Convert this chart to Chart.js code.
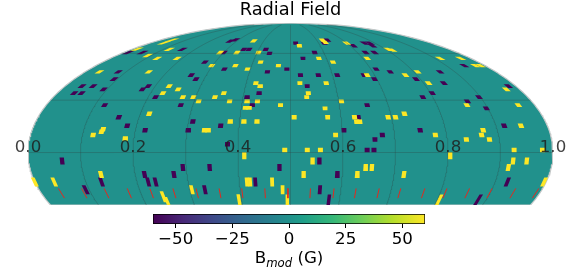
<!DOCTYPE html>
<html>
<head>
<meta charset="utf-8">
<title>Radial Field</title>
<script src="https://cdn.jsdelivr.net/npm/chart.js@4"></script>
<style>
  body { margin: 0; background: #fff; width: 568px; height: 272px; overflow: hidden; position: relative; }
  canvas { position: absolute; left: 0; }
  #cbLabel { position: absolute; left: 0; width: 578px; top: 248px; text-align: center; color: #000;
    font: 16.67px "DejaVu Sans"; line-height: 20px; }
  #cbLabel sub { font-size: 11.7px; line-height: 0; }
</style>
</head>
<body>
<canvas id="map" width="568" height="272" style="top:0"></canvas>
<canvas id="colorbar" width="568" height="45" style="top:205px"></canvas>
<div id="cbLabel">B<sub><i>mod</i></sub> (G)</div>
<script>
// patch centres: x on the printed 0-1 axis, y as height above the equator (pole = 1)
const strongPosX = [.259,.274,.208,.228,.269,.246,.284,.430,.439,.366,.398,.350,.395,.418,.443,.477,.136,.230,.269,.286,.257,.295,.315,.325,.356,.373,.384,.434,.442,.417,.437,.414,.421,.481,
  .517,.561,.566,.607,.686,.694,.554,.581,.646,.785,.824,.852,.862,.742,.719,.646,.763,.518,.568,.911,.534,.531,.836,.597,.566,.934,
  .231,.336,.343,.385,.411,.436,.140,.143,.124,.185,.412,.139,.050,.417,.423,.465,.485,.312,.258,.266,.402,.013,
  .507,.571,.622,.626,.632,.686,.700,.717,.586,.776,.835,.867,.864,.879,.939,.532,.557,.489,.926,.980,.804,.542,.924,.950,.915,.643,.655,.716,.627,.525,.494,.783,.983];
const strongPosY = [.847,.867,.798,.749,.796,.726,.726,.862,.772,.772,.772,.670,.670,.644,.698,.670,.623,.623,.513,.487,.459,.428,.428,.395,.428,.459,.395,.536,.513,.395,.395,.345,.345,.366,
  .824,.867,.850,.844,.796,.790,.726,.698,.726,.726,.726,.670,.670,.623,.598,.598,.536,.536,.536,.487,.459,.428,.366,.395,.341,.366,
  .299,.171,.171,.240,.240,.240,.160,.180,.135,.109,-.025,-.169,-.228,-.228,-.228,-.228,-.287,-.287,-.341,-.385,-.364,-.228,
  .273,.273,.273,.238,.238,.273,.273,.299,.135,.135,.101,.171,.135,.101,.207,.019,.019,.019,.019,.019,-.025,-.066,-.066,-.066,-.115,-.115,-.115,-.169,-.169,-.169,-.367,-.367,-.228];
const strongNegX = [.191,.218,.294,.385,.395,.411,.421,.453,.460,.373,.337,.374,.456,.172,.164,.311,.320,.103,.124,.088,.102,.144,.218,.229,.243,.440,.417,.427,.146,.291,
  .510,.570,.564,.620,.641,.651,.656,.643,.660,.546,.524,.831,.493,.663,.690,.785,.519,.553,.589,.640,.660,.739,.792,.532,.915,.770,.752,.859,.837,.646,.873,
  .173,.189,.223,.314,.305,.367,.380,.065,.222,.295,.346,.278,.140,.229,.243,.110,.479,.433,.337,
  .629,.602,.747,.661,.675,.907,.646,.659,.555,.589,.556,.573,.857,.913];
const strongNegY = [.772,.772,.796,.860,.870,.796,.796,.796,.765,.772,.698,.644,.623,.623,.567,.598,.567,.513,.513,.459,.459,.487,.487,.513,.428,.459,.428,.366,.366,.366,
  .844,.867,.844,.824,.844,.844,.824,.772,.772,.772,.726,.670,.644,.644,.623,.623,.598,.598,.598,.598,.567,.567,.536,.513,.513,.459,.428,.428,.395,.366,.341,
  .273,.207,.171,.240,.171,.207,.063,-.066,-.169,-.115,-.115,-.169,-.228,-.228,-.228,-.287,-.115,-.228,-.287,
  .273,.171,.171,.101,.135,.207,.019,.019,-.066,-.169,-.287,-.367,-.367,-.228];
const strongPosB = 60;
const strongNegB = -60;

// red markers low on the map, x where each one starts
const markerX = [.058,.102,.145,.189,.232,.276,.320,.364,.407,.451,.495,.538,.583,.625,.669,.710,.756,.798,.841,.884,.929,.973];
const markerTop = -.277;
const markerBottom = -.352;

const gridMeridians = [.1,.2,.3,.4,.5,.6,.7,.8,.9];
const gridParallels = [0,.404,.765];
const mapTicks = [0,.2,.4,.6,.8,1];
const barTicks = [-50,-25,0,25,50];
const bMin = -60;
const bMax = 60;
const mapBottom = -.405;

const viridis = ['#440154','#482878','#3e4989','#31688e','#26828e','#21918c','#1f9e89','#35b779','#6ece58','#b5de2b','#fde725'];
const viridisAt = [0,.11,.22,.33,.44,.5,.55,.66,.77,.88,1];

function hex(c) {
  return [1, 3, 5].map(i => parseInt(c.substr(i, 2), 16));
}

function colorFor(b) {
  const t = Math.min(1, Math.max(0, (b - bMin) / (bMax - bMin)));
  let i = 0;
  while (i < viridisAt.length - 2 && t > viridisAt[i + 1]) i++;
  const f = (t - viridisAt[i]) / (viridisAt[i + 1] - viridisAt[i]);
  const a = hex(viridis[i]), b2 = hex(viridis[i + 1]);
  return `rgb(${a.map((v, k) => Math.round(v + (b2[k] - v) * f)).join(',')})`;
}

// Mollweide: a meridian is an ellipse, so x shrinks towards the pole
const halfChord = y => Math.sqrt(Math.max(0, 1 - y * y));
const onMeridian = (f, y) => ({ x: .5 + (f - .5) * halfChord(y), y });

function lineSet(points, color, width, order) {
  return { data: points, borderColor: color, borderWidth: width, pointRadius: 0, fill: false, order };
}

function patchSize(y) {
  if (y < -.33) return [3.5, 11];
  if (y < -.2) return [3.8, 9];
  if (y < 0) return [4.3, 7];
  if (y < .33) return [5, 4.5];
  if (y < .6) return [5, 3.8];
  return [5, 3.3];
}

function patch(x, y, b) {
  const [w, h] = patchSize(y);
  const dw = w / 525 / 2;
  const dh = h / 129.7 / 2;
  const slant = -(x - .5) * y / (1 - y * y);
  const top = y + dh;
  const bottom = Math.max(mapBottom, y - dh);
  const pts = [
    { x: x - dw + slant * (bottom - y), y: bottom },
    { x: x + dw + slant * (bottom - y), y: bottom },
    { x: x + dw + slant * dh, y: top },
    { x: x - dw + slant * dh, y: top }
  ];
  return { data: pts, backgroundColor: colorFor(b), borderWidth: 0, pointRadius: 0, fill: 'shape', order: 5 };
}

const sweep = [];
for (let y = mapBottom; y < .995; y += .01) sweep.push(y);

const outline = [
  ...sweep.map(y => onMeridian(0, y)),
  { x: .5, y: 1 },
  ...sweep.slice().reverse().map(y => onMeridian(1, y))
];
outline.push(outline[0]);

const datasets = [
  { data: outline, backgroundColor: colorFor(0), borderColor: '#c4c8c8', borderWidth: 1.2, pointRadius: 0, fill: 'shape', order: 9 },
  ...strongPosX.map((x, i) => patch(x, strongPosY[i], strongPosB)),
  ...strongNegX.map((x, i) => patch(x, strongNegY[i], strongNegB)),
  ...gridMeridians.map(f => lineSet(sweep.map(y => onMeridian(f, y)), 'rgba(50,60,60,.28)', 1, 3)),
  ...gridParallels.map(y => lineSet([{ x: .5 - .5 * halfChord(y), y }, { x: .5 + .5 * halfChord(y), y }], 'rgba(50,60,60,.28)', 1, 3)),
  ...markerX.map(f => {
    const k = (f - .5) / halfChord(markerTop);
    return lineSet([onMeridian(.5 + k, markerTop), onMeridian(.5 + k, markerBottom)], '#e02a20', 1, 2);
  })
];

new Chart(document.getElementById('map'), {
  type: 'line',
  data: { datasets },
  options: {
    responsive: false,
    animation: false,
    events: [],
    layout: { padding: { left: 28, right: 15, top: 0, bottom: 67 } },
    plugins: {
      legend: { display: false },
      tooltip: { enabled: false },
      title: {
        display: true,
        text: 'Radial Field',
        fullSize: false,
        color: '#000',
        font: { family: 'DejaVu Sans', size: 17.8, weight: 'normal' },
        padding: { top: 0, bottom: 1.6 }
      }
    },
    scales: {
      x: {
        type: 'linear',
        position: { y: 0 },
        min: 0,
        max: 1,
        grid: { display: false },
        border: { display: false },
        afterBuildTicks: axis => { axis.ticks = mapTicks.map(value => ({ value })); },
        ticks: {
          z: 1,
          padding: -23,
          autoSkip: false,
          maxRotation: 0,
          color: 'rgba(30,30,30,.85)',
          font: { family: 'DejaVu Sans', size: 16.67 },
          callback: v => v.toFixed(1)
        }
      },
      y: { type: 'linear', display: false, min: mapBottom, max: 1 }
    }
  }
});

new Chart(document.getElementById('colorbar'), {
  type: 'bar',
  data: {
    labels: ['B'],
    datasets: [{
      data: [[bMin, bMax]],
      borderColor: '#000',
      borderWidth: 1,
      borderSkipped: false,
      barPercentage: 1,
      categoryPercentage: 1,
      backgroundColor: ctx => {
        const area = ctx.chart.chartArea;
        if (!area) return colorFor(0);
        const g = ctx.chart.ctx.createLinearGradient(area.left, 0, area.right, 0);
        viridis.forEach((c, i) => g.addColorStop(viridisAt[i], c));
        return g;
      }
    }]
  },
  options: {
    indexAxis: 'y',
    responsive: false,
    animation: false,
    events: [],
    layout: { padding: { left: 153, right: 143, top: 9, bottom: 0 } },
    plugins: { legend: { display: false }, tooltip: { enabled: false } },
    scales: {
      x: {
        type: 'linear',
        min: bMin,
        max: bMax,
        // the layout caps an axis at half the free height, so set its height here
        afterFit: axis => { axis.height = 26; },
        grid: { display: true, drawOnChartArea: false, drawTicks: true, tickLength: 4, tickColor: '#000', tickWidth: 1 },
        border: { display: false },
        afterBuildTicks: axis => { axis.ticks = barTicks.map(value => ({ value })); },
        ticks: {
          padding: 2,
          autoSkip: false,
          maxRotation: 0,
          color: '#000',
          font: { family: 'DejaVu Sans', size: 16.67 },
          callback: v => String(v).replace('-', '\u2212')
        }
      },
      y: { display: false }
    }
  }
});
</script>
</body>
</html>
